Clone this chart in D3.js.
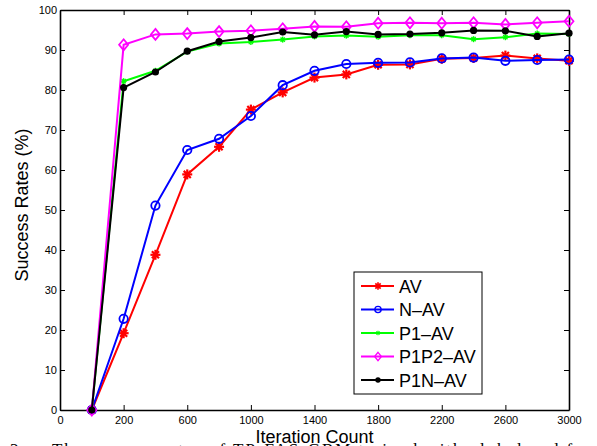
<!DOCTYPE html>
<html>
<head>
<meta charset="utf-8">
<script src="https://cdn.jsdelivr.net/npm/d3@7"></script>
<style>
  body { margin: 0; background: #fff; }
  svg { display: block; font-family: "Liberation Sans", Arial, sans-serif; }
  .axis path, .axis line { stroke: #000; }
  .axis text { font-size: 11px; fill: #000; }
</style>
</head>
<body>
<div id="chart"></div>
<script>
// iteration counts of the 16 measured points
var iterations = [0, 200, 400, 600, 800, 1000, 1200, 1400, 1600, 1800, 2000, 2200, 2400, 2600, 2800, 3000];
var xTickLabels = ["0", "200", "600", "1000", "1400", "1800", "2200", "2600", "3000"];
var yTicks = [0, 10, 20, 30, 40, 50, 60, 70, 80, 90, 100];

var seriesNames = ["AV", "N\u2013AV", "P1\u2013AV", "P1P2\u2013AV", "P1N\u2013AV"];
var av     = [0, 19.2, 38.8, 58.9, 65.8, 75.1, 79.4, 83.1, 83.9, 86.3, 86.4, 87.8, 88.0, 88.6, 87.9, 87.3];
var nav    = [0, 22.8, 51.1, 65.0, 67.8, 73.5, 81.2, 84.8, 86.5, 86.8, 86.9, 87.9, 88.1, 87.3, 87.5, 87.6];
var p1av   = [0, 82.2, 84.8, 89.6, 91.6, 92.0, 92.6, 93.4, 93.6, 93.3, 93.7, 93.7, 92.7, 93.2, 94.1, 94.0];
var p1p2av = [0, 91.3, 93.9, 94.1, 94.6, 94.8, 95.3, 95.9, 95.8, 96.7, 96.8, 96.7, 96.8, 96.4, 96.8, 97.2];
var p1nav  = [0, 80.6, 84.5, 89.7, 92.1, 93.1, 94.5, 93.8, 94.6, 93.9, 94.0, 94.3, 94.9, 94.8, 93.4, 94.2];

var colors = ["#ff0000", "#0000ff", "#00ff00", "#ff00ff", "#000000"];
var markers = ["star", "circle", "cross", "diamond", "dot"];
var allSeries = [av, nav, p1av, p1p2av, p1nav];

var width = 597, height = 446;
var margin = {left: 60, right: 28, top: 10, bottom: 36};

var svg = d3.select("#chart").append("svg")
    .attr("width", width)
    .attr("height", height);

// plot is drawn against point index (1..16), labels set by hand like the original
var x = d3.scaleLinear().domain([0, iterations.length]).range([margin.left, width - margin.right]);
var y = d3.scaleLinear().domain([0, 100]).range([height - margin.bottom, margin.top]);
var xTickVals = d3.range(0, iterations.length + 1, 2);

var tick = 5;

svg.append("g")
    .attr("class", "axis")
    .attr("transform", "translate(0," + y(0) + ")")
    .call(d3.axisBottom(x).tickValues(xTickVals).tickFormat((d, i) => xTickLabels[i])
        .tickSizeInner(-tick).tickSizeOuter(0).tickPadding(6));

svg.append("g")
    .attr("class", "axis")
    .attr("transform", "translate(0," + y(100) + ")")
    .call(d3.axisTop(x).tickValues(xTickVals).tickFormat("").tickSizeInner(-tick).tickSizeOuter(0));

svg.append("g")
    .attr("class", "axis")
    .attr("transform", "translate(" + x(0) + ",0)")
    .call(d3.axisLeft(y).tickValues(yTicks).tickSizeInner(-tick).tickSizeOuter(0).tickPadding(3));

svg.append("g")
    .attr("class", "axis")
    .attr("transform", "translate(" + x(iterations.length) + ",0)")
    .call(d3.axisRight(y).tickValues(yTicks).tickFormat("").tickSizeInner(-tick).tickSizeOuter(0));

svg.selectAll(".axis path").attr("stroke-width", 1.6);
svg.selectAll(".axis line").attr("stroke-width", 1);

function drawMarker(g, type, color) {
    if (type === "star") {
        [0, 45, 90, 135].forEach(a => {
            g.append("line").attr("x1", -5).attr("x2", 5).attr("y1", 0).attr("y2", 0)
                .attr("transform", "rotate(" + a + ")")
                .attr("stroke", color).attr("stroke-width", 2.2);
        });
        g.append("circle").attr("r", 2.5).attr("fill", color);
    } else if (type === "circle") {
        g.append("circle").attr("r", 4.2).attr("fill", "none").attr("stroke", color).attr("stroke-width", 1.8);
    } else if (type === "cross") {
        [0, 45, 90, 135].forEach(a => {
            g.append("line").attr("x1", -3).attr("x2", 3).attr("y1", 0).attr("y2", 0)
                .attr("transform", "rotate(" + a + ")")
                .attr("stroke", color).attr("stroke-width", 1.4);
        });
    } else if (type === "diamond") {
        g.append("path").attr("d", "M0,-5.5L4.5,0L0,5.5L-4.5,0Z")
            .attr("fill", "none").attr("stroke", color).attr("stroke-width", 1.8);
    } else if (type === "dot") {
        g.append("circle").attr("r", 3.6).attr("fill", color);
    }
}

var line = d3.line().x((d, i) => x(i + 1)).y(d => y(d));

allSeries.forEach((vals, s) => {
    var g = svg.append("g");
    g.append("path")
        .datum(vals)
        .attr("d", line)
        .attr("fill", "none")
        .attr("stroke", colors[s])
        .attr("stroke-width", 2);
    g.selectAll("g.mk")
        .data(vals)
        .join("g")
        .attr("class", "mk")
        .attr("transform", (d, i) => "translate(" + x(i + 1) + "," + y(d) + ")")
        .each(function() { drawMarker(d3.select(this), markers[s], colors[s]); });
});

// legend
var leg = svg.append("g").attr("transform", "translate(354,272)");
leg.append("rect").attr("width", 128).attr("height", 122)
    .attr("fill", "#fff").attr("stroke", "#000").attr("stroke-width", 1);
seriesNames.forEach((name, s) => {
    var row = leg.append("g").attr("transform", "translate(0," + (14 + s * 23.5) + ")");
    row.append("line").attr("x1", 7).attr("x2", 40).attr("stroke", colors[s]).attr("stroke-width", 2);
    var m = row.append("g").attr("transform", "translate(24,0) scale(0.75)");
    drawMarker(m, markers[s], colors[s]);
    row.append("text").attr("x", 45).attr("y", 6.5)
        .attr("font-size", 18).text(name);
});

svg.append("text")
    .attr("x", (x(0) + x(iterations.length)) / 2)
    .attr("y", 443)
    .attr("text-anchor", "middle")
    .attr("font-size", 18)
    .text("Iteration Count");

svg.append("text")
    .attr("transform", "translate(28," + (y(50) - 5) + ") rotate(-90)")
    .attr("text-anchor", "middle")
    .attr("font-size", 18)
    .text("Success Rates (%)");

// caption of the page, cut off at the bottom edge
svg.append("text")
    .attr("x", 10).attr("y", 455)
    .attr("font-family", "Liberation Serif, serif")
    .attr("font-size", 17)
    .text("3.");
svg.append("text")
    .attr("x", 52).attr("y", 455)
    .attr("font-family", "Liberation Serif, serif")
    .attr("font-size", 17)
    .attr("textLength", 560)
    .attr("lengthAdjust", "spacing")
    .text("The success rates of TP-FAS-GBM trained with global and feedb");
</script>
</body>
</html>
